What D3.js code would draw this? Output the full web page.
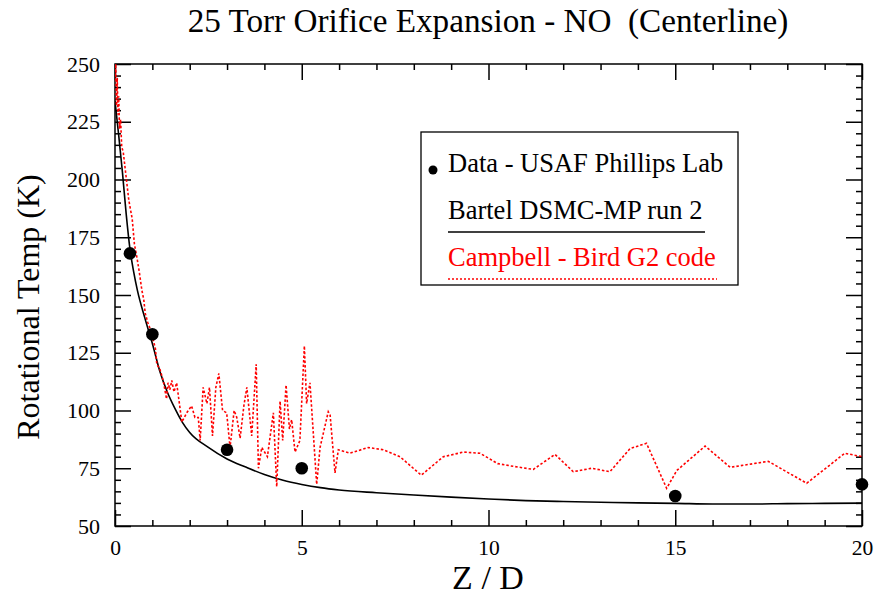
<!DOCTYPE html>
<html>
<head>
<meta charset="utf-8">
<script src="https://cdn.jsdelivr.net/npm/d3@7/dist/d3.min.js"></script>
<style>
  html, body { margin: 0; padding: 0; background: #fff; }
  svg { display: block; font-family: "Liberation Serif", "Times New Roman", serif; }
</style>
</head>
<body>
<svg id="chart" width="875" height="600"></svg>
<script>
// Measured rotational temperature (USAF Phillips Lab)
const dataZ = [0.4, 1.0, 3.0, 5.0, 15.0, 20.0];
const dataT = [168, 133, 83, 75, 63, 68];

// Bartel DSMC-MP run 2 (solid)
const bartelZ = [0, 0.1, 0.2, 0.3, 0.4, 0.5, 0.6, 0.8, 1.0, 1.2, 1.4, 1.6, 1.8, 2.0, 2.5, 3.0, 3.5, 4.0, 4.5, 5.0, 5.5, 6, 7, 8, 9, 10, 11, 12, 13, 14, 15, 16, 17, 18, 19, 20];
const bartelT = [234, 219, 203, 185, 170, 160, 152, 140, 129, 117, 108, 101, 95, 90.5, 84, 79, 75.5, 72.3, 69.8, 68, 66.6, 65.6, 64.4, 63.4, 62.5, 61.7, 61, 60.6, 60.3, 60, 59.8, 59.5, 59.5, 59.7, 59.8, 59.9];

// Campbell - Bird G2 code (dotted)
const birdZ = [0.0, 0.02, 0.04, 0.06, 0.08, 0.1, 0.12, 0.15, 0.18, 0.22, 0.27, 0.32, 0.37, 0.46, 0.52, 0.59, 0.65, 0.72, 0.77, 0.81, 0.88, 0.95, 0.99, 1.03, 1.08, 1.12, 1.2, 1.29, 1.38, 1.42, 1.47, 1.52, 1.58, 1.65, 1.79, 1.92, 2.05, 2.14, 2.23, 2.28, 2.36, 2.46, 2.53, 2.61, 2.70, 2.78, 2.88, 2.99, 3.08, 3.19, 3.26, 3.35, 3.45, 3.53, 3.66, 3.78, 3.84, 3.93, 4.08, 4.24, 4.33, 4.42, 4.49, 4.58, 4.67, 4.73, 4.82, 4.95, 5.07, 5.13, 5.22, 5.4, 5.49, 5.71, 5.76, 5.89, 5.98, 6.29, 6.78, 7.18, 7.63, 8.2, 8.79, 9.33, 9.77, 10.25, 10.6, 11.2, 11.78, 12.27, 12.76, 13.25, 13.79, 14.23, 14.77, 15.04, 15.8, 16.47, 17.49, 18.52, 19.54, 20];
const birdT = [243, 250, 232, 244, 228, 236, 222, 226, 214, 212, 205, 198, 191, 183, 172, 166, 160, 152, 148, 142, 138, 135, 133, 130, 127, 120, 118, 113, 105, 112, 109, 113, 108, 112, 95, 99, 102, 97, 97, 87, 110, 103, 110, 89, 110, 116, 100, 99, 84, 100, 97, 88, 102, 110, 89, 120, 75, 84, 80, 99, 67, 104, 87, 111, 92, 96, 82, 87, 128, 103, 112, 68, 84, 99.5, 98, 73, 83, 81.5, 84, 83, 80, 72, 80, 82, 81.5, 77, 76, 74.5, 81, 73.5, 75, 73.5, 83.5, 85.8, 66.3, 74, 84.6, 75.4, 78, 68.5, 81.5, 80];

const xMajor = [0, 5, 10, 15, 20];
const yMajor = [50, 75, 100, 125, 150, 175, 200, 225, 250];

const titleText = "25 Torr Orifice Expansion - NO  (Centerline)";
const xTitle = "Z / D";
const yTitle = "Rotational Temp (K)";
const legendLabels = ["Data - USAF Phillips Lab", "Bartel DSMC-MP run 2", "Campbell - Bird G2 code"];

const FONT = "'Liberation Serif', 'Times New Roman', serif";
const svg = d3.select("#chart");
const L = 115, R = 862, T = 64, B = 526;

const x = d3.scaleLinear().domain([0, 20]).range([L, R]);
const y = d3.scaleLinear().domain([50, 250]).range([B, T]);

const xMinor = d3.range(0, 20.001, 1).filter(v => v % 5 !== 0);
const yMinor = d3.range(50, 250.001, 5).filter(v => v % 25 !== 0);

function styleAxis(size) {
  return g => {
    g.attr("font-family", FONT).attr("font-size", size);
    g.select(".domain").remove();
    g.selectAll(".tick line").attr("stroke", "#000").attr("stroke-width", 1.5);
    g.selectAll(".tick text").attr("fill", "#000")
      .style("font-family", FONT).style("font-size", size + "px");
  };
}

// bottom axis: labelled major ticks + minor ticks, all pointing inward
svg.append("g").attr("transform", `translate(0,${B})`)
  .call(d3.axisBottom(x).tickValues(xMajor).tickSize(-16).tickPadding(14).tickFormat(d3.format("d")))
  .call(styleAxis(21.5));
svg.append("g").attr("transform", `translate(0,${B})`)
  .call(d3.axisBottom(x).tickValues(xMinor).tickSize(-6).tickFormat(""))
  .call(styleAxis(21.5));
// top axis
svg.append("g").attr("transform", `translate(0,${T})`)
  .call(d3.axisTop(x).tickValues(xMajor).tickSize(-16).tickFormat(""))
  .call(styleAxis(21.5));
svg.append("g").attr("transform", `translate(0,${T})`)
  .call(d3.axisTop(x).tickValues(xMinor).tickSize(-6).tickFormat(""))
  .call(styleAxis(21.5));
// left axis
svg.append("g").attr("transform", `translate(${L},0)`)
  .call(d3.axisLeft(y).tickValues(yMajor).tickSize(-16).tickPadding(15).tickFormat(d3.format("d")))
  .call(styleAxis(22));
svg.append("g").attr("transform", `translate(${L},0)`)
  .call(d3.axisLeft(y).tickValues(yMinor).tickSize(-6).tickFormat(""))
  .call(styleAxis(22));
// right axis
svg.append("g").attr("transform", `translate(${R},0)`)
  .call(d3.axisRight(y).tickValues(yMajor).tickSize(-16).tickFormat(""))
  .call(styleAxis(22));
svg.append("g").attr("transform", `translate(${R},0)`)
  .call(d3.axisRight(y).tickValues(yMinor).tickSize(-6).tickFormat(""))
  .call(styleAxis(22));

// plot frame
svg.append("rect").attr("x", L).attr("y", T).attr("width", R - L).attr("height", B - T)
  .attr("fill", "none").attr("stroke", "#000").attr("stroke-width", 1.5);

svg.append("clipPath").attr("id", "plotclip")
  .append("rect").attr("x", L).attr("y", T - 2).attr("width", R - L).attr("height", B - T + 2);

const line = d3.line().x(d => x(d[0])).y(d => y(d[1]));
const smooth = d3.line().x(d => x(d[0])).y(d => y(d[1])).curve(d3.curveMonotoneX);

svg.append("path")
  .datum(d3.zip(bartelZ, bartelT))
  .attr("d", smooth)
  .attr("fill", "none").attr("stroke", "#000").attr("stroke-width", 1.6)
  .attr("clip-path", "url(#plotclip)");

svg.append("path")
  .datum(d3.zip(birdZ, birdT))
  .attr("d", line)
  .attr("fill", "none").attr("stroke", "#ff0000").attr("stroke-width", 1.6)
  .attr("stroke-dasharray", "2.5,2")
  .attr("clip-path", "url(#plotclip)");

svg.append("g").selectAll("circle")
  .data(d3.zip(dataZ, dataT))
  .join("circle")
  .attr("cx", d => x(d[0])).attr("cy", d => y(d[1]))
  .attr("r", 6.3).attr("fill", "#000");

// titles
svg.append("text").attr("x", 488).attr("y", 32).attr("text-anchor", "middle")
  .style("font-family", FONT).style("font-size", "33.2px").attr("fill", "#000")
  .attr("xml:space", "preserve").style("white-space", "pre").text(titleText);
svg.append("text").attr("x", 488).attr("y", 589).attr("text-anchor", "middle")
  .style("font-family", FONT).style("font-size", "34px").attr("fill", "#000").text(xTitle);
svg.append("text").attr("transform", "translate(39,307) rotate(-90)").attr("text-anchor", "middle")
  .style("font-family", FONT).style("font-size", "32px").attr("fill", "#000").text(yTitle);

// legend
const lg = svg.append("g").style("font-family", FONT);
lg.append("rect").attr("x", 421).attr("y", 132).attr("width", 317).attr("height", 153)
  .attr("fill", "#fff").attr("stroke", "#000").attr("stroke-width", 1.3);
lg.append("circle").attr("cx", 433).attr("cy", 170).attr("r", 4.5).attr("fill", "#000");
lg.append("text").attr("x", 448).attr("y", 172).style("font-size", "26.5px").attr("fill", "#000").text(legendLabels[0]);
lg.append("text").attr("x", 448).attr("y", 219).style("font-size", "26.5px").attr("fill", "#000").text(legendLabels[1]);
lg.append("line").attr("x1", 448).attr("x2", 705).attr("y1", 232).attr("y2", 232)
  .attr("stroke", "#000").attr("stroke-width", 1.5);
lg.append("text").attr("x", 448).attr("y", 266).style("font-size", "26.5px").attr("fill", "#ff0000").text(legendLabels[2]);
lg.append("line").attr("x1", 448).attr("x2", 717).attr("y1", 279).attr("y2", 279)
  .attr("stroke", "#ff0000").attr("stroke-width", 1.5).attr("stroke-dasharray", "2,2");
</script>
</body>
</html>
